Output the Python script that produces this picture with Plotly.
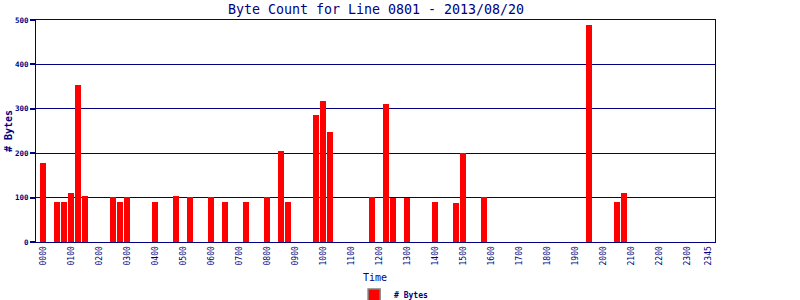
import plotly.graph_objects as go

# 15-minute time slots
times = [f"{h:02d}{m:02d}" for h in range(24) for m in (0, 15, 30, 45)]

# observed (non-zero) slots and their byte counts
bar_times = ["0000", "0030", "0045", "0100", "0115", "0130", "0230", "0245", "0300",
             "0400", "0445", "0515", "0600", "0630", "0715", "0800", "0830", "0845",
             "0945", "1000", "1015", "1145", "1215", "1230", "1300", "1400", "1445",
             "1500", "1545", "1930", "2030", "2045"]
bar_values = [178, 90, 90, 111, 353, 104, 102, 90, 102,
              90, 104, 102, 102, 90, 90, 102, 206, 90,
              287, 318, 248, 102, 311, 100, 100, 90, 88,
              200, 102, 489, 90, 111]

tick_labels = [f"{h:02d}00" for h in range(24)] + ["2345"]
y_ticks = [0, 100, 200, 300, 400, 500]

lookup = dict(zip(bar_times, bar_values))
values = [lookup.get(t, 0) for t in times]

NAVY = "#000080"
FONT = "DejaVu Sans Mono"

fig = go.Figure()
fig.add_trace(go.Bar(
    x=times, y=values, name="# Bytes",
    marker=dict(color="#ff0000", line=dict(width=0)),
    width=0.86, showlegend=False,
))
# legend-only entry with gray border
fig.add_trace(go.Bar(
    x=[None], y=[None], name="# Bytes",
    marker=dict(color="#ff0000", line=dict(width=1.5, color="#808080")),
    showlegend=True,
))

fig.update_layout(
    width=800, height=300,
    margin=dict(l=36, r=85, t=20, b=58, autoexpand=False),
    paper_bgcolor="white", plot_bgcolor="white",
    title=dict(text="Byte Count for Line 0801 - 2013/08/20",
               font=dict(family=FONT, size=13.3, color=NAVY),
               x=376/800, xanchor="center", y=0.968, yanchor="middle"),
    font=dict(family=FONT, color=NAVY),
    bargap=0,
    showlegend=True,
    legend=dict(orientation="h", xref="container", yref="container",
                x=0.492, xanchor="center", y=5/300, yanchor="middle",
                font=dict(family=FONT, size=8, color=NAVY, weight="bold"),
                itemwidth=30, tracegroupgap=0),
    annotations=[
        dict(text="# Bytes", xref="paper", yref="paper",
             x=(8 - 36) / 679, y=0.5, textangle=-90, showarrow=False,
             xanchor="center", yanchor="middle",
             font=dict(family=FONT, size=10, color=NAVY, weight="bold")),
        dict(text="Time", xref="paper", yref="paper",
             x=(375 - 36) / 679, y=(242 - 277) / 222, showarrow=False,
             xanchor="center", yanchor="middle",
             font=dict(family=FONT, size=10, color=NAVY)),
    ],
)

fig.update_xaxes(
    type="category", categoryorder="array", categoryarray=times,
    range=[-1, 96], automargin=False,
    tickmode="array", tickvals=tick_labels, ticktext=tick_labels,
    tickangle=-90, tickfont=dict(family=FONT, size=8, color=NAVY),
    ticks="", showgrid=False,
    showline=True, linecolor=NAVY, linewidth=1, mirror=True,
)
fig.update_yaxes(
    range=[0, 500], tickvals=y_ticks, automargin=False,
    tickfont=dict(family=FONT, size=7.5, color=NAVY, weight="bold"),
    ticks="outside", ticklen=5, tickwidth=2, tickcolor=NAVY,
    showgrid=True, gridcolor=NAVY, gridwidth=1,
    showline=True, linecolor=NAVY, linewidth=1, mirror=True,
    zeroline=False,
)

fig.write_html("out.html")
